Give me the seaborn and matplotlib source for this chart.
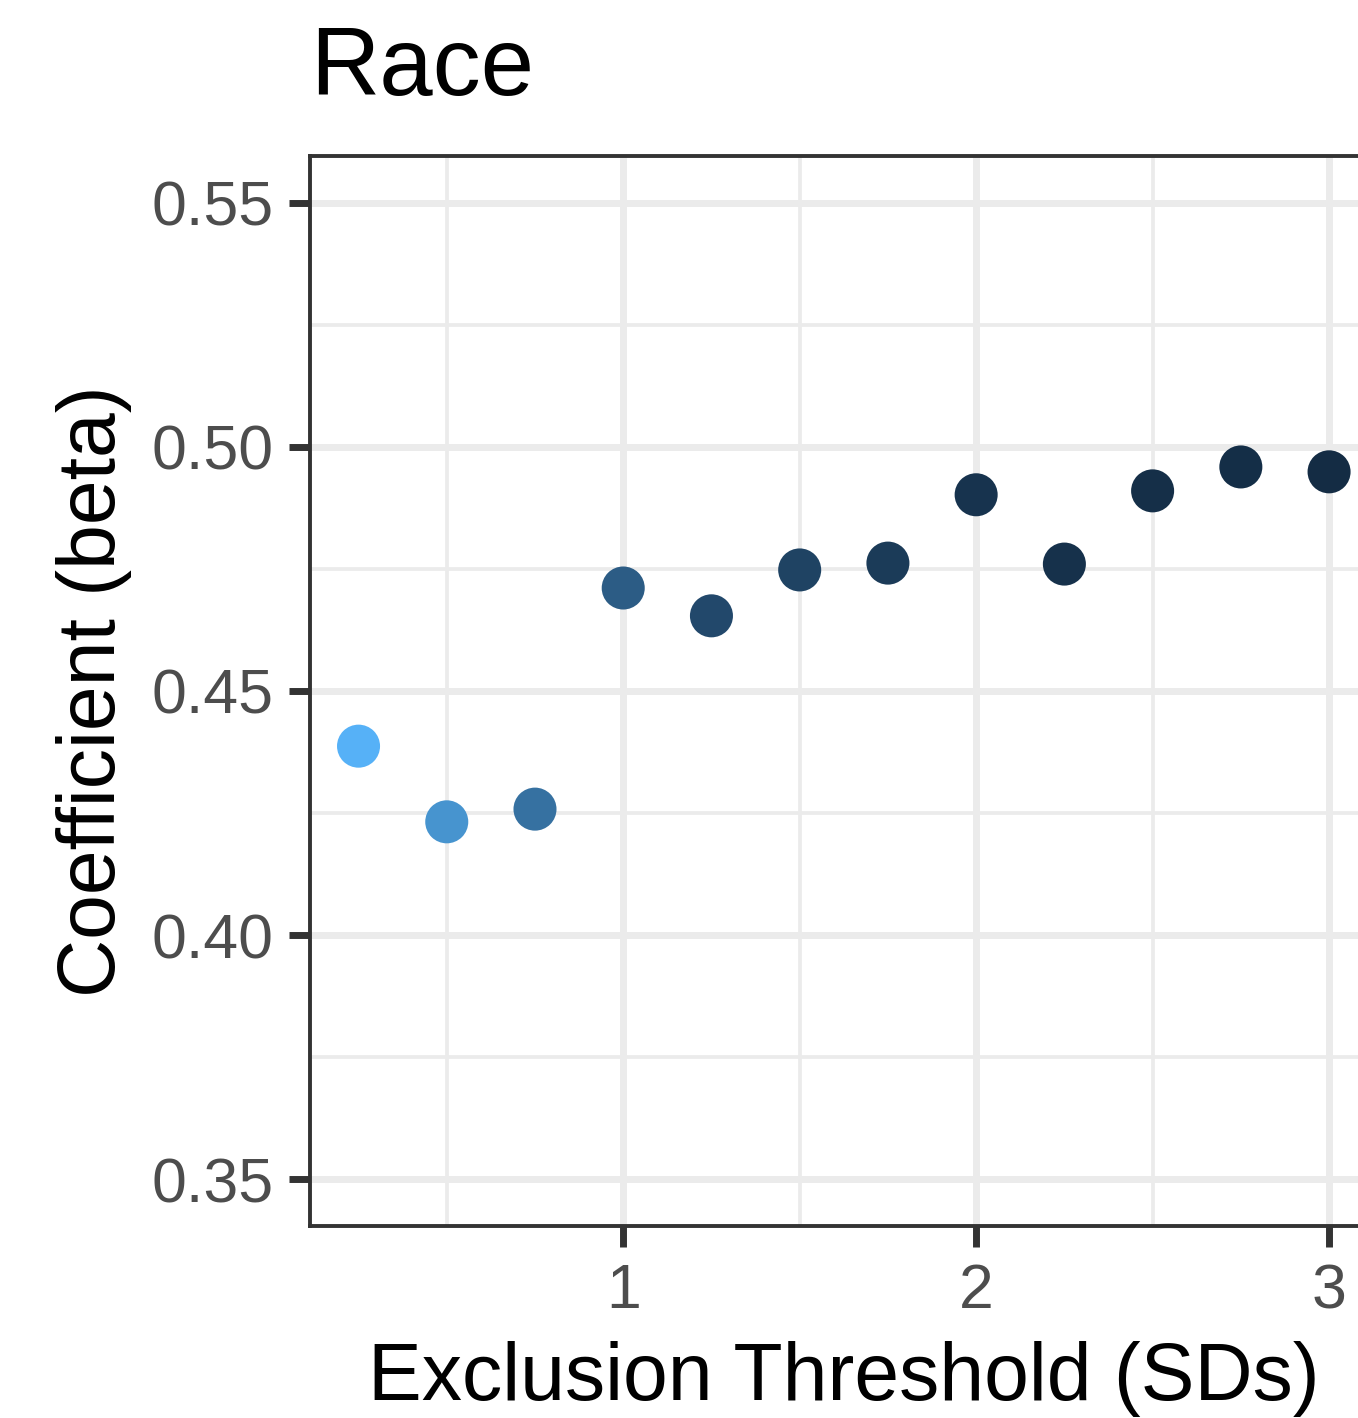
import numpy as np
import pandas as pd
import matplotlib
matplotlib.use('Agg')
import matplotlib.pyplot as plt
from matplotlib.ticker import MultipleLocator
import seaborn as sns

# ── Datos ────────────────────────────────────────────────────────────────────
umbral = [0.25, 0.5, 0.75, 1.0, 1.25, 1.5, 1.75, 2.0, 2.25, 2.5, 2.75, 3.0]
beta = [0.4387, 0.4232, 0.4258, 0.4711, 0.4654, 0.4748, 0.4762, 0.4902,
        0.4760, 0.4910, 0.4959, 0.4949]
# variable de color (proporción excluida, escala relativa 0-1)
excluidos = [1.00, 0.78, 0.52, 0.37, 0.22, 0.18, 0.12, 0.06, 0.05, 0.03, 0.02, 0.01]

df = pd.DataFrame({'umbral': umbral, 'beta': beta, 'excluidos': excluidos})

# ── Estilo ───────────────────────────────────────────────────────────────────
sns.set_theme(style='white')
plt.rcParams['font.family'] = ['Liberation Sans', 'DejaVu Sans']

GRIS_TXT = '#4D4D4D'; BORDE = '#333333'; GRID = '#EBEBEB'
paleta = sns.blend_palette(['#132B43', '#56B1F7'], as_cmap=True)

fig = plt.figure(figsize=(13.58, 14.18), dpi=100)
ax = fig.add_axes([310/1358, (1418-1226)/1418, (1377.6-310)/1358, (1226-156)/1418])

sns.scatterplot(data=df, x='umbral', y='beta', hue='excluidos', palette=paleta,
                hue_norm=(0, 1), s=960, linewidth=0, legend=False, ax=ax, zorder=3)

ax.set_xlim(0.1125, 3.1375)
ax.set_ylim(0.3404, 0.5596)
ax.xaxis.set_major_locator(MultipleLocator(1))
ax.xaxis.set_minor_locator(MultipleLocator(0.5))
ax.yaxis.set_major_locator(MultipleLocator(0.05))
ax.yaxis.set_minor_locator(MultipleLocator(0.025))
ax.yaxis.set_major_formatter(matplotlib.ticker.FormatStrFormatter('%.2f'))

ax.set_axisbelow(True)
ax.grid(which='major', color=GRID, linewidth=5.0)
ax.grid(which='minor', color=GRID, linewidth=2.7)
for sp in ax.spines.values():
    sp.set_edgecolor(BORDE); sp.set_linewidth(2.8)

ax.tick_params(which='major', length=15, width=5.0, color=BORDE,
               labelsize=45, labelcolor=GRIS_TXT, pad=11, left=True, bottom=True)
ax.tick_params(which='minor', length=0)

ax.set_xlabel('Exclusion Threshold (SDs)', fontsize=58, color='black', labelpad=14)
ax.set_ylabel('Coefficient (beta)', fontsize=58, color='black', labelpad=14)
ax.set_title('Race', fontsize=69, color='black', loc='left', pad=44)

fig.savefig('out.png', dpi=100, facecolor='white')
